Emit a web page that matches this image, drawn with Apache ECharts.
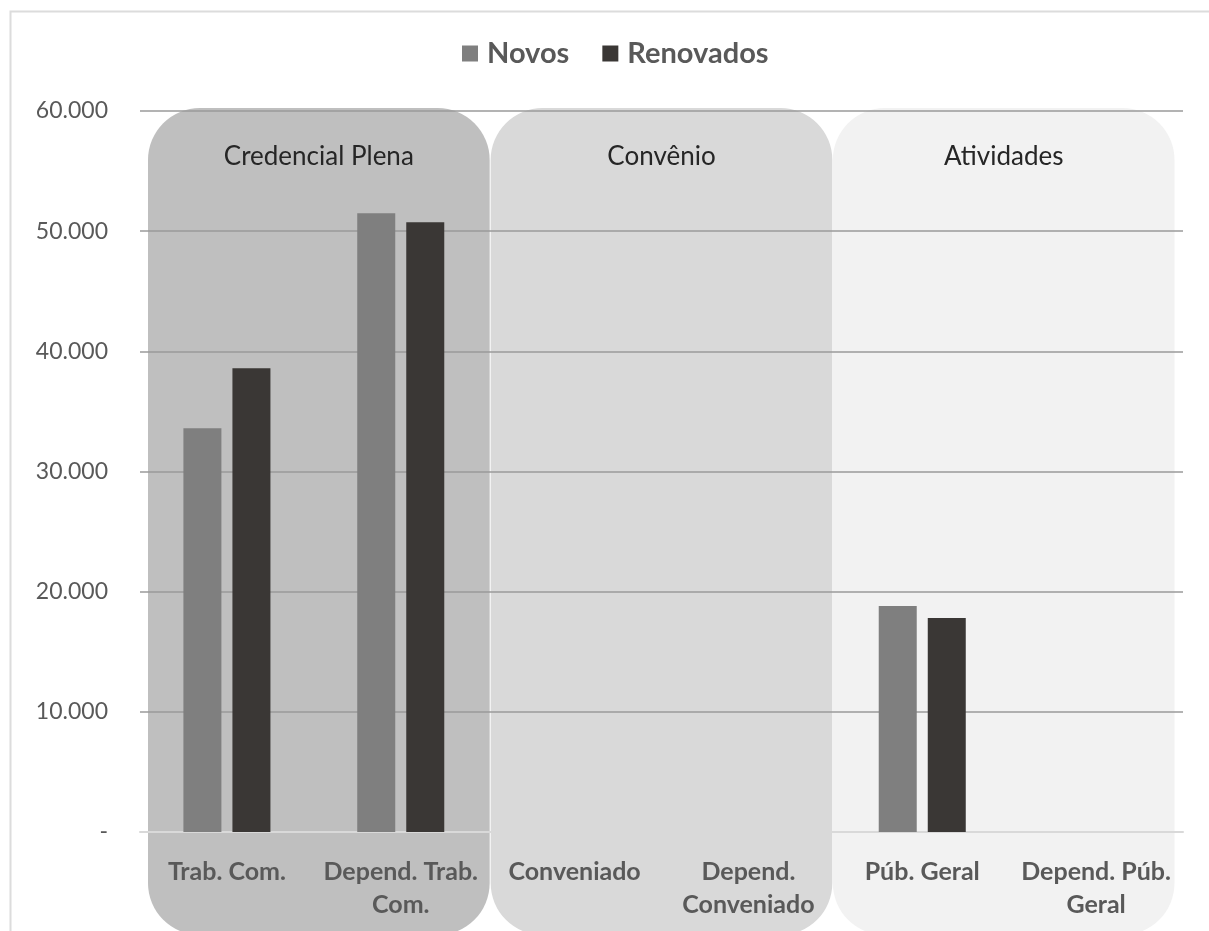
<!DOCTYPE html>
<html>
<head>
<meta charset="utf-8">
<script src="https://cdn.jsdelivr.net/npm/echarts@6/dist/echarts.min.js"></script>
<style>
html,body{margin:0;padding:0;background:#fff;}
#c{width:1209px;height:931px;}
</style>
</head>
<body>
<div id="c"></div>
<script>
const categories = ['Trab. Com.', 'Depend. Trab.\nCom.', 'Conveniado', 'Depend.\nConveniado', 'Púb. Geral', 'Depend. Púb.\nGeral'];
const novos = [33600, 51500, null, null, 18800, null];
const renovados = [38600, 50750, null, null, 17800, null];
const groupNames = ['Credencial Plena', 'Convênio', 'Atividades'];
const groupStart = [0, 2, 4];
const groupColors = ['#bfbfbf', '#d9d9d9', '#f2f2f2'];

const chart = echarts.init(document.getElementById('c'));
const FONT = 'Lato, "Open Sans", sans-serif';
const groupShift = [5, 0, -5.5];

chart.setOption({
  backgroundColor: '#ffffff',
  animation: false,
  graphic: [{
    type: 'rect', left: 8, top: 9, z: -10,
    shape: { width: 1220, height: 940 },
    style: { fill: 'none', stroke: '#dcdcdc', lineWidth: 2 }
  }],
  legend: {
    top: 34, left: 457,
    itemWidth: 16, itemHeight: 16, itemGap: 33,
    icon: 'rect',
    textStyle: { fontFamily: FONT, fontSize: 29, fontWeight: 'bold', color: '#595959', padding: [0, 0, 0, 4] },
    data: ['Novos', 'Renovados']
  },
  grid: { left: 140, right: 26, top: 111, bottom: 99 },
  xAxis: {
    type: 'category',
    data: categories,
    axisTick: { show: false },
    axisLine: { lineStyle: { color: '#d9d9d9', width: 2 } },
    axisLabel: {
      interval: 0, margin: 23,
      fontFamily: FONT, fontSize: 25, fontWeight: 'bold', color: '#595959',
      lineHeight: 33
    }
  },
  yAxis: {
    type: 'value', min: 0, max: 60000, interval: 10000,
    axisLine: { show: false },
    axisTick: { show: false },
    splitLine: { lineStyle: { color: '#9a9a9a', width: 1.5 } },
    axisLabel: {
      margin: 32, fontFamily: FONT, fontSize: 23, color: '#595959',
      formatter: v => v === 0 ? '-' : v.toLocaleString('de-DE')
    }
  },
  series: [
    {
      type: 'custom',
      z: -1,
      silent: true,
      clip: false,
      data: groupNames.map((n, i) => [groupStart[i], i]),
      renderItem: function (params, api) {
        const s = api.value(0);
        const gi = api.value(1);
        const p0 = api.coord([s, 60000]);
        const p1 = api.coord([s + 1, 0]);
        const bw = api.size([1, 0])[0];
        const cx = (p0[0] + p1[0]) / 2 + groupShift[gi];
        const w = 2 * bw - 6;
        const top = p0[1] - 3;
        const bottom = p1[1] + 103;
        return {
          type: 'group',
          children: [{
            type: 'rect',
            shape: { x: cx - w / 2, y: top, width: w, height: bottom - top, r: 52 },
            style: { fill: groupColors[gi] }
          }, {
            type: 'text',
            style: {
              x: cx, y: top + 49, text: groupNames[gi],
              align: 'center', verticalAlign: 'middle',
              font: '26px ' + FONT, fill: '#262626'
            }
          }]
        };
      }
    },
    {
      name: 'Novos', type: 'bar', data: novos,
      barWidth: 38, barGap: '29%',
      itemStyle: { color: '#7f7f7f' }
    },
    {
      name: 'Renovados', type: 'bar', data: renovados,
      barWidth: 38,
      itemStyle: { color: '#3a3735' }
    }
  ]
});
</script>
</body>
</html>
